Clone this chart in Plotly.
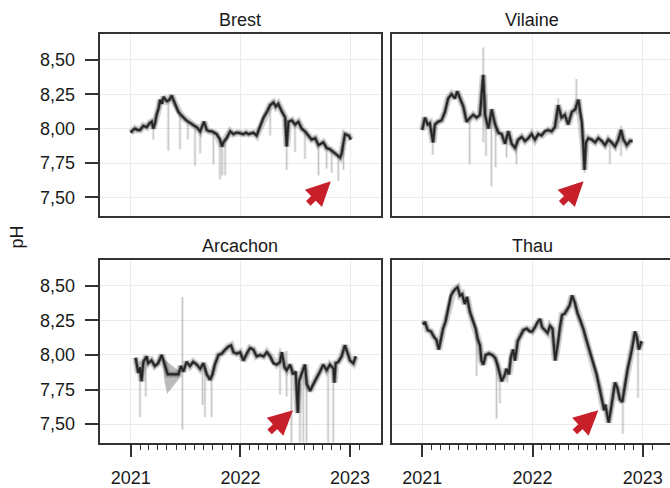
import plotly.graph_objects as go
import pandas as pd

FONT = "Liberation Sans, Arial, Helvetica, sans-serif"

# ------------------------------------------------------------------ data
site_names = ["Brest", "Vilaine", "Arcachon", "Thau"]

brest_dates = ["2021-01-01", "2021-01-08", "2021-01-15", "2021-01-24", "2021-02-01", "2021-02-12",
               "2021-02-23", "2021-03-05", "2021-03-12", "2021-03-17", "2021-03-23", "2021-03-28",
               "2021-04-04", "2021-04-09", "2021-04-15", "2021-04-20", "2021-05-01", "2021-05-10",
               "2021-05-17", "2021-05-28", "2021-06-09", "2021-06-17", "2021-06-25", "2021-07-05",
               "2021-07-12", "2021-07-23", "2021-08-01", "2021-08-09", "2021-08-20", "2021-09-02",
               "2021-09-11", "2021-09-20", "2021-09-28", "2021-10-06", "2021-10-14", "2021-10-25",
               "2021-11-01", "2021-11-05", "2021-11-16", "2021-11-28", "2021-12-09", "2021-12-18",
               "2021-12-25", "2022-01-11", "2022-01-20", "2022-01-28", "2022-02-13", "2022-02-24",
               "2022-03-07", "2022-03-19", "2022-03-30", "2022-04-10", "2022-04-21", "2022-04-29",
               "2022-05-07", "2022-05-19", "2022-05-30", "2022-06-04", "2022-06-10", "2022-06-21",
               "2022-07-02", "2022-07-13", "2022-07-24", "2022-08-04", "2022-08-15", "2022-08-26",
               "2022-09-07", "2022-09-18", "2022-10-04", "2022-10-15", "2022-10-26", "2022-11-07",
               "2022-11-18", "2022-11-29", "2022-12-04", "2022-12-15", "2022-12-27", "2023-01-04"]
brest_ph = [7.97, 7.99, 8.00, 7.99, 7.99, 8.02,
            8.01, 8.04, 8.05, 8.00, 8.04, 8.10,
            8.15, 8.21, 8.18, 8.23, 8.20, 8.21,
            8.24, 8.18, 8.12, 8.10, 8.08, 8.06,
            8.05, 8.03, 8.02, 8.01, 7.98, 8.05,
            7.99, 7.98, 7.98, 7.97, 7.96, 7.92,
            7.87, 7.90, 7.93, 7.98, 7.96, 7.97,
            7.97, 7.96, 7.97, 7.96, 7.97, 7.95,
            8.01, 8.08, 8.12, 8.17, 8.19, 8.16,
            8.18, 8.12, 8.08, 7.87, 8.05, 8.06,
            8.03, 8.05, 8.00, 7.98, 7.95, 7.92,
            7.93, 7.88, 7.90, 7.86, 7.85, 7.83,
            7.81, 7.79, 7.82, 7.96, 7.95, 7.92]
brest_spike_dates = ["2021-03-17", "2021-05-06", "2021-06-14", "2021-07-10", "2021-08-03", "2021-08-20",
                     "2021-10-03", "2021-10-25", "2021-11-01", "2021-11-11", "2022-04-10", "2022-06-04",
                     "2022-07-02", "2022-08-04", "2022-09-18", "2022-10-15", "2022-11-01", "2022-11-23",
                     "2022-12-10"]
brest_spike_lo = [7.92, 7.84, 7.85, 7.92, 7.73, 7.82, 7.74, 7.63, 7.66, 7.66, 7.95, 7.70,
                  7.83, 7.78, 7.66, 7.71, 7.68, 7.62, 7.70]
brest_spike_hi = [8.04, 8.20, 8.10, 8.05, 8.02, 7.99, 7.98, 7.92, 7.88, 7.92, 8.17, 8.07,
                  8.03, 7.98, 7.88, 7.86, 7.84, 7.80, 7.86]

vilaine_dates = ["2021-01-01", "2021-01-10", "2021-01-19", "2021-01-26", "2021-02-06", "2021-02-12",
                 "2021-02-23", "2021-03-06", "2021-03-17", "2021-03-28", "2021-04-08", "2021-04-19",
                 "2021-04-27", "2021-05-06", "2021-05-17", "2021-05-28", "2021-06-08", "2021-06-19",
                 "2021-06-30", "2021-07-11", "2021-07-22", "2021-07-28", "2021-08-08", "2021-08-19",
                 "2021-08-30", "2021-09-10", "2021-09-21", "2021-10-02", "2021-10-13", "2021-10-24",
                 "2021-11-04", "2021-11-15", "2021-11-26", "2021-12-07", "2021-12-18", "2021-12-29",
                 "2022-01-09", "2022-01-20", "2022-01-31", "2022-02-11", "2022-02-22", "2022-03-05",
                 "2022-03-16", "2022-03-27", "2022-04-07", "2022-04-18", "2022-04-29", "2022-05-11",
                 "2022-05-22", "2022-06-02", "2022-06-07", "2022-06-13", "2022-06-18", "2022-06-22",
                 "2022-06-27", "2022-07-05", "2022-07-16", "2022-07-27", "2022-08-07", "2022-08-18",
                 "2022-08-29", "2022-09-09", "2022-09-20", "2022-10-01", "2022-10-12", "2022-10-21",
                 "2022-10-29", "2022-11-09", "2022-11-20", "2022-11-28"]
vilaine_ph = [7.99, 8.08, 8.03, 8.04, 7.90, 8.03,
              8.05, 8.06, 8.12, 8.22, 8.25, 8.22,
              8.27, 8.22, 8.16, 8.05, 8.08, 8.10,
              8.08, 8.10, 8.39, 8.10, 8.00, 8.14,
              8.03, 7.97, 7.96, 7.89, 7.98, 7.89,
              7.86, 7.92, 7.94, 7.91, 7.93, 7.96,
              7.92, 7.96, 7.95, 7.98, 7.99, 7.98,
              8.01, 8.17, 8.08, 8.10, 8.03, 8.12,
              8.14, 8.21, 8.12, 8.05, 7.88, 7.70,
              7.90, 7.93, 7.92, 7.90, 7.93, 7.91,
              7.88, 7.92, 7.90, 7.87, 7.92, 7.99,
              7.92, 7.88, 7.91, 7.91]
vilaine_spike_dates = ["2021-02-05", "2021-06-07", "2021-07-22", "2021-07-31", "2021-08-18", "2021-09-01",
                       "2021-10-07", "2021-11-09", "2022-03-27", "2022-05-26", "2022-06-22", "2022-09-14",
                       "2022-10-21"]
vilaine_spike_lo = [7.81, 7.74, 7.90, 7.80, 7.58, 7.72, 7.79, 7.74, 8.00, 8.10, 7.68, 7.74, 7.80]
vilaine_spike_hi = [8.00, 8.08, 8.59, 8.25, 8.10, 8.05, 7.95, 7.92, 8.22, 8.36, 7.90, 7.90, 8.02]

arcachon_dates = ["2021-01-17", "2021-01-26", "2021-02-01", "2021-02-06", "2021-02-12", "2021-02-23",
                  "2021-02-28", "2021-03-11", "2021-03-22", "2021-04-02", "2021-04-14", "2021-05-04",
                  "2021-06-09", "2021-06-17", "2021-06-25", "2021-07-06", "2021-07-17", "2021-07-28",
                  "2021-08-09", "2021-08-20", "2021-08-31", "2021-09-11", "2021-09-22", "2021-09-30",
                  "2021-10-08", "2021-10-20", "2021-10-31", "2021-11-11", "2021-11-22", "2021-12-01",
                  "2021-12-09", "2021-12-20", "2021-12-31", "2022-01-11", "2022-01-22", "2022-02-02",
                  "2022-02-13", "2022-02-24", "2022-03-07", "2022-03-19", "2022-03-30", "2022-04-10",
                  "2022-04-21", "2022-05-02", "2022-05-13", "2022-05-19", "2022-05-28", "2022-06-04",
                  "2022-06-15", "2022-06-26", "2022-07-04", "2022-07-11", "2022-07-15", "2022-07-24",
                  "2022-08-04", "2022-08-10", "2022-08-21", "2022-09-01", "2022-09-12", "2022-09-23",
                  "2022-10-04", "2022-10-15", "2022-10-26", "2022-11-07", "2022-11-10", "2022-11-14",
                  "2022-11-23", "2022-12-04", "2022-12-15", "2022-12-24", "2023-01-01", "2023-01-12",
                  "2023-01-20"]
arcachon_ph = [7.98, 7.87, 7.91, 7.81, 7.95, 7.99,
               7.94, 7.96, 7.92, 7.94, 8.00, 7.86,
               7.86, 7.92, 7.88, 7.95, 7.92, 7.95,
               7.93, 7.90, 7.94, 7.86, 7.82, 7.86,
               7.93, 8.00, 8.01, 8.04, 8.06, 8.07,
               8.02, 8.01, 8.02, 7.96, 8.01, 8.05,
               8.04, 7.99, 8.00, 7.99, 8.02, 7.99,
               7.94, 7.93, 7.95, 8.02, 7.91, 7.89,
               7.93, 7.86, 7.88, 7.58, 7.81, 7.86,
               7.93, 7.79, 7.74, 7.79, 7.83, 7.88,
               7.93, 7.89, 7.93, 7.90, 7.80, 7.94,
               7.95, 7.99, 8.07, 8.01, 7.96, 7.94,
               7.99]
arcachon_spike_dates = ["2021-02-01", "2021-02-20", "2021-06-22", "2021-08-28", "2021-09-05", "2021-09-27",
                        "2022-05-13", "2022-06-04", "2022-06-20", "2022-07-18", "2022-07-29", "2022-08-09",
                        "2022-10-20", "2022-11-06"]
arcachon_spike_lo = [7.55, 7.70, 7.46, 7.64, 7.55, 7.55, 7.71, 7.70, 7.30, 7.30, 7.30, 7.30, 7.30, 7.30]
arcachon_spike_hi = [7.95, 7.98, 8.42, 7.93, 7.90, 7.85, 8.05, 8.03, 7.88, 7.80, 7.85, 7.80, 7.90, 7.90]
# interpolated gap in the Arcachon record (grey wedge)
arcachon_gap_dates = ["2021-04-16", "2021-06-12", "2021-06-12", "2021-05-02", "2021-04-24"]
arcachon_gap_ph = [7.98, 7.88, 7.83, 7.72, 7.80]

thau_dates = ["2021-01-04", "2021-01-10", "2021-01-19", "2021-01-30", "2021-02-09", "2021-02-17",
              "2021-02-25", "2021-03-04", "2021-03-11", "2021-03-19", "2021-03-28", "2021-04-06",
              "2021-04-14", "2021-04-21", "2021-04-28", "2021-05-06", "2021-05-13", "2021-05-22",
              "2021-05-29", "2021-06-08", "2021-06-19", "2021-06-27", "2021-07-03", "2021-07-11",
              "2021-07-16", "2021-07-22", "2021-07-30", "2021-08-10", "2021-08-21", "2021-08-30",
              "2021-09-07", "2021-09-15", "2021-09-21", "2021-09-30", "2021-10-07", "2021-10-15",
              "2021-10-21", "2021-10-29", "2021-11-04", "2021-11-13", "2021-11-24", "2021-12-02",
              "2021-12-13", "2021-12-24", "2021-12-31", "2022-01-09", "2022-01-18", "2022-01-26",
              "2022-02-02", "2022-02-11", "2022-02-20", "2022-02-28", "2022-03-08", "2022-03-17",
              "2022-03-26", "2022-04-02", "2022-04-09", "2022-04-18", "2022-04-26", "2022-05-04",
              "2022-05-12", "2022-05-21", "2022-05-30", "2022-06-07", "2022-06-18", "2022-06-29",
              "2022-07-10", "2022-07-21", "2022-08-01", "2022-08-12", "2022-08-19", "2022-08-26",
              "2022-08-30", "2022-09-06", "2022-09-10", "2022-09-17", "2022-09-25", "2022-10-01",
              "2022-10-09", "2022-10-17", "2022-10-25", "2022-11-03", "2022-11-12", "2022-11-20",
              "2022-11-27", "2022-12-06", "2022-12-12", "2022-12-19", "2022-12-28"]
thau_ph = [8.22, 8.24, 8.18, 8.17, 8.13, 8.11,
           8.04, 8.13, 8.19, 8.24, 8.33, 8.43,
           8.46, 8.48, 8.49, 8.43, 8.44, 8.37,
           8.42, 8.31, 8.24, 8.19, 8.12, 8.07,
           7.96, 7.93, 8.00, 8.01, 8.00, 7.98,
           7.93, 7.87, 7.81, 7.85, 7.90, 7.86,
           7.98, 8.04, 7.96, 8.10, 8.15, 8.18,
           8.19, 8.17, 8.17, 8.20, 8.24, 8.26,
           8.20, 8.18, 8.16, 8.21, 8.19, 7.96,
           8.08, 8.21, 8.29, 8.30, 8.33, 8.36,
           8.43, 8.38, 8.30, 8.26, 8.19, 8.10,
           8.02, 7.94, 7.86, 7.75, 7.66, 7.60,
           7.64, 7.55, 7.51, 7.60, 7.70, 7.80,
           7.76, 7.68, 7.66, 7.79, 7.90, 7.98,
           8.05, 8.17, 8.13, 8.04, 8.10]
thau_spike_dates = ["2021-06-30", "2021-09-04", "2021-09-15", "2021-10-10", "2022-10-27", "2022-12-16"]
thau_spike_lo = [7.85, 7.54, 7.65, 7.80, 7.43, 7.69]
thau_spike_hi = [8.12, 7.98, 7.88, 7.90, 7.70, 8.10]

# red arrows: (tip date, tip pH, tail date, tail pH) per panel
arrow_tip_dates = ["2022-10-29", "2022-06-19", "2022-06-25", "2022-08-07"]
arrow_tip_ph = [7.617, 7.617, 7.60, 7.60]
arrow_tail_dates = ["2022-08-10", "2022-04-01", "2022-04-03", "2022-05-16"]
arrow_tail_ph = [7.446, 7.446, 7.434, 7.434]

y_tick_vals = [7.50, 7.75, 8.00, 8.25, 8.50]
y_tick_text = ["7,50", "7,75", "8,00", "8,25", "8,50"]
x_tick_vals = ["2021-01-01", "2022-01-01", "2023-01-01"]
x_tick_text = ["2021", "2022", "2023"]
month_ticks = [d.strftime("%Y-%m-%d") for d in pd.date_range("2021-02-01", "2023-02-01", freq="MS")
               if d.month != 1]

# ------------------------------------------------------------------ figure
W, H = 670, 488
FS = 18
sites = [
    (brest_dates, brest_ph, brest_spike_dates, brest_spike_lo, brest_spike_hi),
    (vilaine_dates, vilaine_ph, vilaine_spike_dates, vilaine_spike_lo, vilaine_spike_hi),
    (arcachon_dates, arcachon_ph, arcachon_spike_dates, arcachon_spike_lo, arcachon_spike_hi),
    (thau_dates, thau_ph, thau_spike_dates, thau_spike_lo, thau_spike_hi),
]

# panel geometry in pixels (left, right, top, bottom)
panels = [(99.5, 381.0, 34.0, 219.0), (391.7, 670.0, 34.0, 219.0),
          (99.5, 381.0, 263.3, 449.0), (391.7, 670.0, 263.3, 449.0)]
x_ranges = [["2020-09-19", "2023-04-14"], ["2020-09-22", "2023-04-01"],
            ["2020-09-19", "2023-04-14"], ["2020-09-22", "2023-04-01"]]
y_range = [7.366, 8.691]

fig = go.Figure()
for i, (d, v, sd, slo, shi) in enumerate(sites):
    ax = "" if i == 0 else str(i + 1)
    xa, ya = "x" + ax, "y" + ax
    # spikes (soft halo + core)
    sx, sy = [], []
    for dd, lo, hi in zip(sd, slo, shi):
        sx += [dd, dd, None]
        sy += [hi, lo, None]
    fig.add_trace(go.Scatter(x=sx, y=sy, mode="lines", xaxis=xa, yaxis=ya,
                             line=dict(color="rgba(170,170,170,0.25)", width=3),
                             hoverinfo="skip", showlegend=False))
    fig.add_trace(go.Scatter(x=sx, y=sy, mode="lines", xaxis=xa, yaxis=ya,
                             line=dict(color="rgba(150,150,150,0.45)", width=1),
                             hoverinfo="skip", showlegend=False))
    if i == 2:
        fig.add_trace(go.Scatter(x=arcachon_gap_dates + [arcachon_gap_dates[0]],
                                 y=arcachon_gap_ph + [arcachon_gap_ph[0]],
                                 mode="lines", fill="toself", fillcolor="rgba(175,175,175,0.85)",
                                 line=dict(width=0), xaxis=xa, yaxis=ya,
                                 hoverinfo="skip", showlegend=False))
    # ribbon look
    fig.add_trace(go.Scatter(x=d, y=v, mode="lines", xaxis=xa, yaxis=ya,
                             line=dict(color="rgba(110,110,110,0.30)", width=7),
                             hoverinfo="skip", showlegend=False))
    fig.add_trace(go.Scatter(x=d, y=v, mode="lines", xaxis=xa, yaxis=ya,
                             line=dict(color="rgba(60,60,60,0.55)", width=3.8),
                             hoverinfo="skip", showlegend=False))
    fig.add_trace(go.Scatter(x=d, y=v, mode="lines", xaxis=xa, yaxis=ya,
                             line=dict(color="#262626", width=2),
                             showlegend=False, name=site_names[i]))

layout = dict(
    width=W, height=H, margin=dict(l=0, r=0, t=0, b=0),
    paper_bgcolor="white", plot_bgcolor="white",
    font=dict(family=FONT, size=FS, color="#1a1a1a"),
    showlegend=False,
)
annotations = []
for i, (l, r, t, b) in enumerate(panels):
    ax = "" if i == 0 else str(i + 1)
    bottom = i >= 2
    left = i % 2 == 0
    xdom = [l / W, min(r / W, 1.0)]
    ydom = [1 - b / H, 1 - t / H]
    xaxis = dict(domain=xdom, anchor="y" + ax, type="date", range=x_ranges[i],
                 tickmode="array", tickvals=x_tick_vals, ticktext=x_tick_text,
                 showgrid=True, gridcolor="#ebebeb", gridwidth=1,
                 showline=True, linecolor="#333333", linewidth=1.8, mirror=True,
                 zeroline=False, fixedrange=True)
    if bottom:
        xaxis.update(ticks="outside", ticklen=13, tickwidth=1.5, tickcolor="#333333",
                     showticklabels=True, ticklabelstandoff=5,
                     tickfont=dict(family=FONT, size=FS, color="#1a1a1a"),
                     minor=dict(tickmode="array", tickvals=month_ticks, ticks="outside",
                                ticklen=6, tickwidth=1.3, tickcolor="#333333", showgrid=False))
    else:
        xaxis.update(ticks="", showticklabels=False)
    yaxis = dict(domain=ydom, anchor="x" + ax, range=y_range,
                 tickmode="array", tickvals=y_tick_vals, ticktext=y_tick_text,
                 showgrid=True, gridcolor="#ebebeb", gridwidth=1,
                 showline=True, linecolor="#333333", linewidth=1.8,
                 zeroline=False, fixedrange=True)
    if left:
        yaxis.update(mirror=True, ticks="outside", ticklen=13, tickwidth=1.5,
                     tickcolor="#333333", showticklabels=True, ticklabelstandoff=6,
                     tickfont=dict(family=FONT, size=FS, color="#1a1a1a"))
    else:
        yaxis.update(mirror=False, ticks="", showticklabels=False)
    layout["xaxis" + ax] = xaxis
    layout["yaxis" + ax] = yaxis
    # facet title
    annotations.append(dict(text=site_names[i], xref="paper", yref="paper",
                            x=(l + (r if i % 2 == 0 else 673.2)) / 2 / W,
                            y=1 - (t - 14) / H, xanchor="center", yanchor="middle",
                            showarrow=False, font=dict(family=FONT, size=FS, color="#1a1a1a")))
    # red arrow
    annotations.append(dict(text="", xref="x" + ax, yref="y" + ax, axref="x" + ax, ayref="y" + ax,
                            x=arrow_tip_dates[i], y=arrow_tip_ph[i],
                            ax=arrow_tail_dates[i], ay=arrow_tail_ph[i],
                            showarrow=True, arrowhead=2, arrowsize=0.75, arrowwidth=6.5,
                            arrowcolor="#c8202a", standoff=0))

annotations.append(dict(text="pH", xref="paper", yref="paper", x=17 / W, y=1 - 241 / H,
                        textangle=-90, showarrow=False, xanchor="center", yanchor="middle",
                        font=dict(family=FONT, size=FS, color="#1a1a1a")))
layout["annotations"] = annotations
fig.update_layout(**layout)
fig.write_html("out.html")
